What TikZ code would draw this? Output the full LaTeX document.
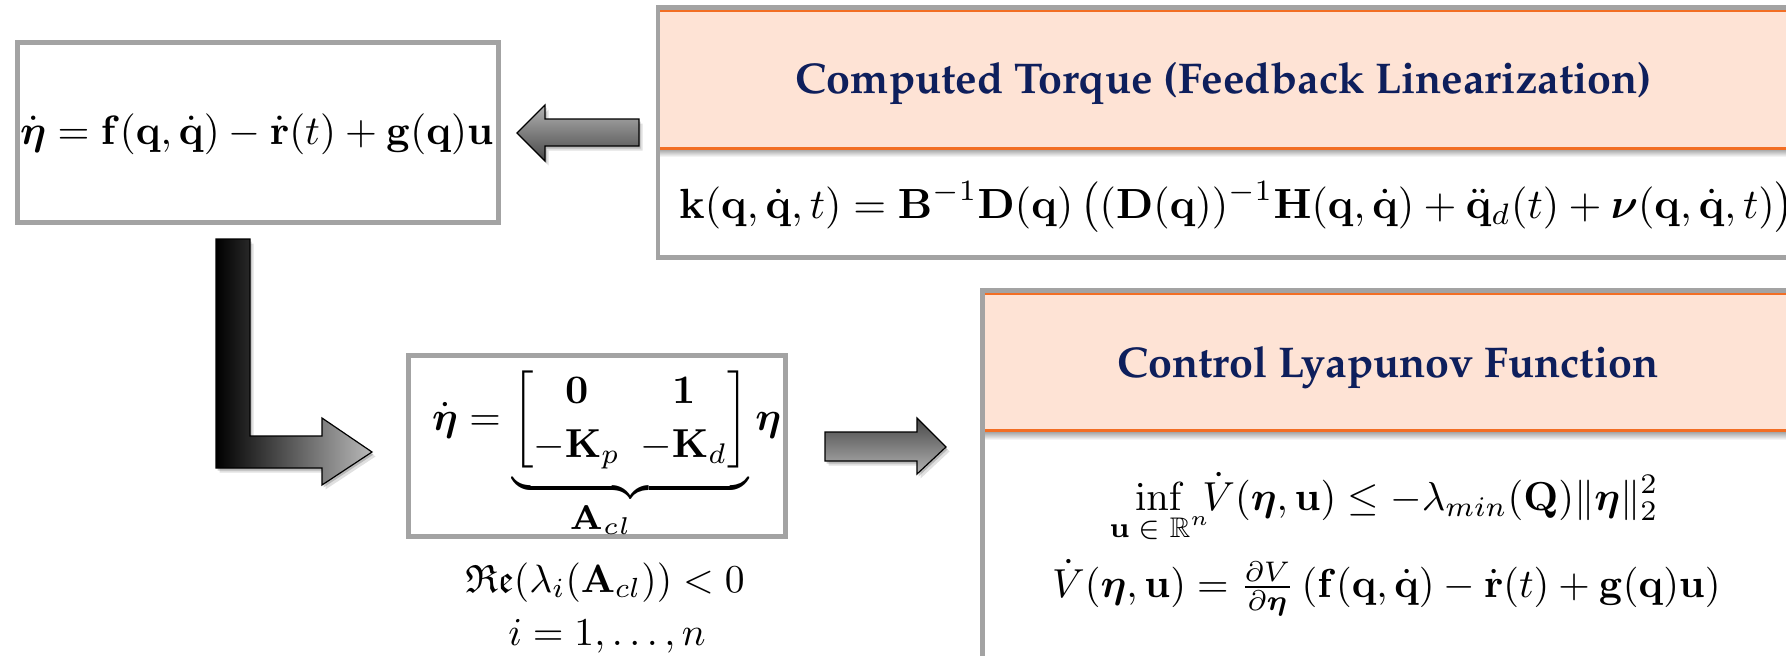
\documentclass[tikz,border=0pt]{standalone}
\usepackage{amsmath,amssymb,amsfonts,mathtools}
\usepackage{graphicx}
\usetikzlibrary{calc}
\definecolor{bordergray}{RGB}{163,163,163}
\definecolor{peach}{RGB}{254,227,213}
\definecolor{orangeline}{RGB}{242,110,36}
\definecolor{navy}{RGB}{14,31,92}
\definecolor{arrlight}{RGB}{178,178,178}
\definecolor{arrdark}{RGB}{72,72,72}
\newcommand\Mth[2][4.05]{\scalebox{#1}{$\displaystyle #2$}}
\newcommand\TitleFont{\fontencoding{T1}\fontfamily{ppl}\fontseries{b}\fontsize{43}{50}\selectfont}
\newcommand\bq{\mathbf{q}}
\newcommand\bqd{\dot{\mathbf{q}}}
\newcommand\bEta{\boldsymbol{\eta}}
\begin{document}
\begin{tikzpicture}[x=1pt,y=-1pt,
  graybox/.style={draw=bordergray, line width=4.5pt, fill=white, inner sep=0pt, minimum width=#1},
  eqtext/.style={inner sep=0pt, anchor=base west},
  eqmid/.style={inner sep=0pt, anchor=base},
  titletext/.style={inner sep=0pt, anchor=base, text=navy, font=\TitleFont},
  blockarrow/.style={draw=black, line width=1.2pt, line join=miter},
  arrshadow/.style={fill=black, draw=none}
]
\useasboundingbox (0,0) rectangle (1786,656);
\clip (0,0) rectangle (1786,656);

% ---------- boxes ----------
\node[graybox=481pt, minimum height=180pt] (sys) at (258,132.5) {};
\node[graybox=1192pt, minimum height=250pt] (ct) at (1253.75,132.5) {};
\node[graybox=377pt, minimum height=181pt] (cl) at (597,446) {};
\node[graybox=868pt, minimum height=410pt] (clf) at (1416.25,495.25) {};

% ---------- headers ----------
\fill[peach] (660,10) rectangle (1850,148);
\draw[orangeline, line width=2.5pt] (660,11.2) -- (1850,11.2);
\shade[top color=black!35, bottom color=white] (660,149.5) rectangle (1850,157);
\draw[orangeline, line width=3pt] (660,148) -- (1850,148);

\fill[peach] (985,293) rectangle (1850,430);
\draw[orangeline, line width=2.5pt] (985,294.2) -- (1850,294.2);
\shade[top color=black!35, bottom color=white] (985,432) rectangle (1850,440);
\draw[orangeline, line width=3pt] (985,430.5) -- (1850,430.5);

% ---------- arrows ----------
% left arrow
\foreach \s/\o in {1.5/0.18,3.5/0.12}{
  \fill[arrshadow, opacity=\o] ($(517,133)+(\s,\s+1)$) -- ++(28,-28) -- ++(0,14) -- ++(94,0) -- ++(0,27) -- ++(-94,0) -- ++(0,15) -- cycle;
}
\path[blockarrow, top color=arrlight, bottom color=arrdark] (517,133) -- (545,105) -- (545,119) -- (639,119) -- (639,146) -- (545,146) -- (545,161) -- cycle;

% right arrow
\foreach \s/\o in {1.5/0.18,3.5/0.12}{
  \fill[arrshadow, opacity=\o] ($(825,432)+(\s,\s+1)$) -- ++(92,0) -- ++(0,-14) -- ++(29,29) -- ++(-29,27) -- ++(0,-13) -- ++(-92,0) -- cycle;
}
\path[blockarrow, top color=arrdark, bottom color=arrlight] (825,432) -- (917,432) -- (917,418) -- (946,447) -- (917,474) -- (917,461) -- (825,461) -- cycle;

% L arrow
\foreach \s/\o in {1.5/0.18,3.5/0.12}{
  \fill[arrshadow, opacity=\o] ($(216,239)+(\s,\s+1)$) -- ++(34,0) -- ++(0,197) -- ++(72,0) -- ++(0,-18) -- ++(50,34) -- ++(-50,33) -- ++(0,-17) -- ++(-106,0) -- cycle;
}
\path[blockarrow, left color=black, right color=arrlight!90!white] (216,239) -- (250,239) -- (250,436) -- (322,436) -- (322,418) -- (372,452) -- (322,485) -- (322,468) -- (216,468) -- cycle;

% ---------- texts ----------
\node[eqtext] (syseq) at (20,144) {\Mth[4.1]{\dot{\bEta} = \mathbf{f}(\bq,\bqd) - \dot{\mathbf{r}}(t) + \mathbf{g}(\bq)\mathbf{u}}};

\node[titletext] (cttitle) at (1224,93) {Computed Torque (Feedback Linearization)};
\node[eqtext] (cteq) at (679,218) {\Mth[4.22]{\mathbf{k}(\bq,\bqd,t) = \mathbf{B}^{-1}\mathbf{D}(\bq)\left((\mathbf{D}(\bq))^{-1}\mathbf{H}(\bq,\bqd) + \ddot{\mathbf{q}}_d(t) + \boldsymbol{\nu}(\bq,\bqd,t)\right)}};

\node[eqtext] (cleq) at (432,430) {\setlength{\arraycolsep}{2.5pt}\renewcommand{\arraystretch}{1.1}\Mth{\dot{\bEta} = \underbrace{\begin{bmatrix}\mathbf{0} & \mathbf{1}\\ -\mathbf{K}_p & -\mathbf{K}_d\end{bmatrix}}_{\scalebox{1.2}{$\scriptstyle\mathbf{A}_{cl}$}}\bEta}};
\node[eqmid] (re) at (605,592) {\Mth[3.95]{\mathfrak{Re}(\lambda_i(\mathbf{A}_{cl})) < 0}};
\node[eqmid] (idx) at (607,645) {\Mth[3.95]{i = 1,\ldots,n}};

\node[titletext] (clftitle) at (1388,377) {Control Lyapunov Function};
\node[eqtext] (clfa) at (1135,510) {\Mth{\inf_{\mathclap{\mathbf{u}\;\in\;\mathbb{R}^n}}\; \dot{V}(\bEta,\mathbf{u}) \le -\lambda_{min}(\mathbf{Q})\|\bEta\|_2^2}};
\node[eqtext] (clfb) at (1052,597) {\Mth{\dot{V}(\bEta,\mathbf{u}) = \tfrac{\partial V}{\partial \bEta}\left(\mathbf{f}(\bq,\bqd) - \dot{\mathbf{r}}(t) + \mathbf{g}(\bq)\mathbf{u}\right)}};
\end{tikzpicture}
\end{document}
